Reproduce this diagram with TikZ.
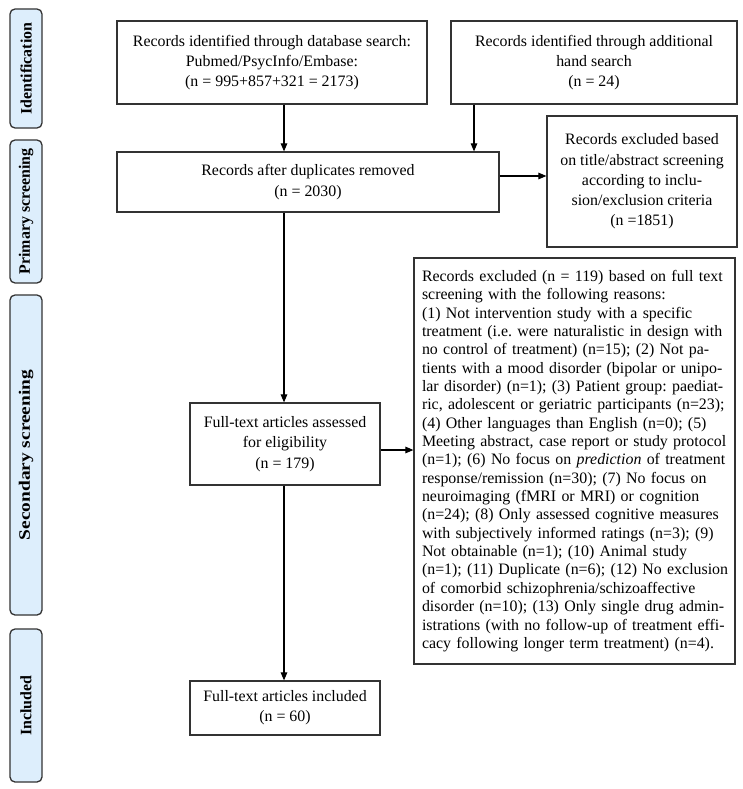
\documentclass[tikz,border=0pt]{standalone}
\usepackage{fontspec}
\setmainfont{Liberation Serif}
\usetikzlibrary{arrows.meta}
\definecolor{lblfill}{HTML}{DDEEFC}
\definecolor{edge}{HTML}{333333}
\frenchspacing
\begin{document}
\begin{tikzpicture}[x=1pt,y=-1pt,
  box/.style={draw=edge, line width=1.2pt, align=center, inner sep=0pt,
    font=\fontsize{15.9}{20.3}\selectfont},
  lbl/.style={draw=edge, fill=lblfill, line width=1.3pt, rounded corners=5pt,
    rotate=90, minimum height=32pt, inner sep=0pt,
    font=\fontsize{15.9}{19}\selectfont\bfseries},
  arr/.style={-{Triangle[length=8pt,width=6.5pt]}, line width=1.1pt, draw=black}]
\useasboundingbox (0,0) rectangle (743,789);
% side labels
\node[lbl, minimum width=119pt] (L1) at (26,68.5) {Identification};
\node[lbl, minimum width=143pt] (L2) at (26,211.5) {Primary screening};
\node[lbl, minimum width=320pt] (L3) at (26,455) {\scalebox{1.22}[1]{Secondary screening}};
\node[lbl, minimum width=153pt] (L4) at (26,705.5) {Included};
% boxes
\node[box, minimum width=310pt, minimum height=83pt] (b1) at (272,62.5)
  {Records identified through database search:\\Pubmed/PsycInfo/Embase:\\(n = 995+857+321 = 2173)};
\node[box, minimum width=286pt, minimum height=83pt] (b2) at (594,62.5)
  {Records identified through additional\\hand search\\(n = 24)};
\node[box, minimum width=382pt, minimum height=60pt] (b3) at (308,182)
  {Records after duplicates removed\\(n = 2030)};
\node[box, minimum width=190pt, minimum height=131pt] (b4) at (642,181.5)
  {Records excluded based\\on title/abstract screening\\according to inclu-\\sion/exclusion criteria\\(n =1851)};
\node[box, minimum width=190pt, minimum height=82pt] (b5) at (285,444)
  {Full-text articles assessed\\for eligibility\\(n = 179)};
\node[box, minimum width=321pt, minimum height=406pt, text width=317pt, align=left,
  inner xsep=2pt, font=\fontsize{15.9}{18.35}\selectfont] (b6) at (574.5,461)
  {\leftskip=6pt\relax
   \makebox[303pt][s]{Records excluded (n = 119) based on full text}\\
   screening with the following reasons:\\
   (1) Not intervention study with a specific\\
   treatment (i.e. were naturalistic in design with\\
   no control of treatment) (n=15); (2) Not pa-\\
   tients with a mood disorder (bipolar or unipo-\\
   lar disorder) (n=1); (3) Patient group: paediat-\\
   ric, adolescent or geriatric participants (n=23);\\
   (4) Other languages than English (n=0); (5)\\
   Meeting abstract, case report or study protocol\\
   (n=1); (6) No focus on \textit{prediction} of treatment\\
   response/remission (n=30); (7) No focus on\\
   neuroimaging (fMRI or MRI) or cognition\\
   (n=24); (8) Only assessed cognitive measures\\
   with subjectively informed ratings (n=3); (9)\\
   Not obtainable (n=1); (10) Animal study\\
   \mbox{(n=1); (11) Duplicate (n=6); (12) No exclusion}\\
   of comorbid schizophrenia/schizoaffective\\
   disorder (n=10); (13) Only single drug admin-\\
   istrations (with no follow-up of treatment effi-\\
   cacy following longer term treatment) (n=4).\par};
\node[box, minimum width=190pt, minimum height=54pt] (b7) at (285,708)
  {Full-text articles included\\(n = 60)};
% connector guides
\coordinate (trunk) at (284,0);
\coordinate (t2) at (474,0);
\coordinate (r1) at (0,176);
\coordinate (r2) at (0,450);
% connectors
\draw[arr] (b1.south -| trunk) -- (b3.north -| trunk);
\draw[arr] (b2.south -| t2) -- (b3.north -| t2);
\draw[arr] (b3.east |- r1) -- (b4.west |- r1);
\draw[arr] (b3.south -| trunk) -- (b5.north -| trunk);
\draw[arr] (b5.east |- r2) -- (b6.west |- r2);
\draw[arr] (b5.south -| trunk) -- (b7.north -| trunk);
\end{tikzpicture}
\end{document}
